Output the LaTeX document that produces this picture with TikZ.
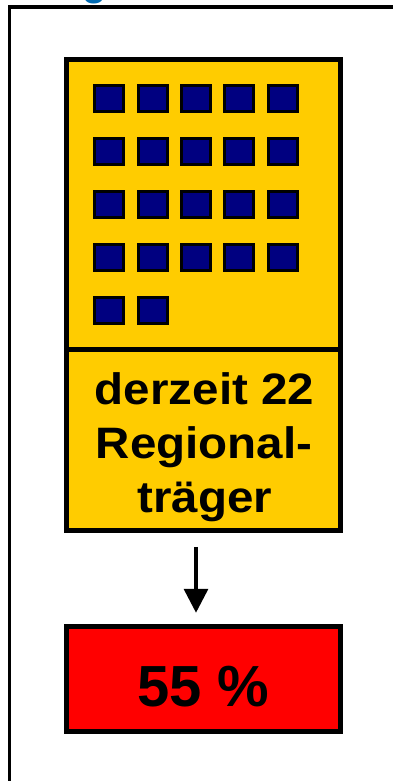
\documentclass[tikz,border=0pt]{standalone}
\usepackage{fontspec}
\setmainfont{Liberation Sans}
\newfontfamily\labfont[FakeStretch=1.08]{Liberation Sans}
\usetikzlibrary{arrows.meta}
\definecolor{boxyellow}{RGB}{255,204,0}
\definecolor{sqnavy}{RGB}{0,0,128}
\definecolor{boxred}{RGB}{255,0,0}
\definecolor{titleblue}{RGB}{0,106,178}
\tikzset{
  panel/.style={draw=black, line width=4.5pt, inner sep=0pt, minimum width=274pt},
  sq/.style={draw=black, fill=sqnavy, line width=3pt, inner sep=0pt, minimum width=29pt, minimum height=26pt},
  lab/.style={font=\labfont\bfseries\fontsize{44}{54}\selectfont, text=black, inner sep=0pt, anchor=base},
  big/.style={font=\bfseries\fontsize{58}{60}\selectfont, text=black, inner sep=0pt, anchor=base},
  frame/.style={draw=black, line width=3.5pt}
}
\begin{document}
\begin{tikzpicture}[x=1pt, y=-1pt]
\useasboundingbox (0,0) rectangle (393,781);
% cut-off title letter
\node[font=\bfseries\fontsize{40}{40}\selectfont, text=titleblue, inner sep=0pt, anchor=base] (title) at (95,-4.4) {g};
% outer frame (running off the page)
\draw[frame] (9.25,800) -- (9.25,7) -- (400,7);
% yellow panel
\node[panel, fill=boxyellow, minimum height=290pt] (upper) at (203.5,204.5) {};
\node[panel, fill=boxyellow, minimum height=181pt] (lower) at (203.5,440) {};
% squares
\foreach \i in {0,...,4} {
  \foreach \j in {0,...,3} {
    \pgfmathsetmacro{\cx}{93.3+16+43.33*\i}
    \pgfmathsetmacro{\cy}{84.3+14.5+52.9*\j}
    \node[sq] (sq-\i-\j) at (\cx,\cy) {};
  }
}
\foreach \i in {0,1} {
  \pgfmathsetmacro{\cx}{93.3+16+43.33*\i}
  \pgfmathsetmacro{\cy}{84.3+14.5+52.9*4}
  \node[sq] (sq-\i-4) at (\cx,\cy) {};
}
% text
\node[lab] (l1) at (204.5,404) {derzeit 22};
\node[lab] (l2) at (204,458) {Regional-};
\node[lab] (l3) at (205,512) {träger};
% red box
\node[panel, fill=boxred, minimum height=105pt] (result) at (203.5,679) {};
\node[big] (pct) at (203.5,706) {55 \%};
% arrow
\draw[line width=3.5pt, -{Triangle[width=24pt,length=24pt]}]
  ([xshift=-7.5pt,yshift=-14pt]lower.south) -- ([xshift=-7.5pt,yshift=11.5pt]result.north);
\end{tikzpicture}
\end{document}
